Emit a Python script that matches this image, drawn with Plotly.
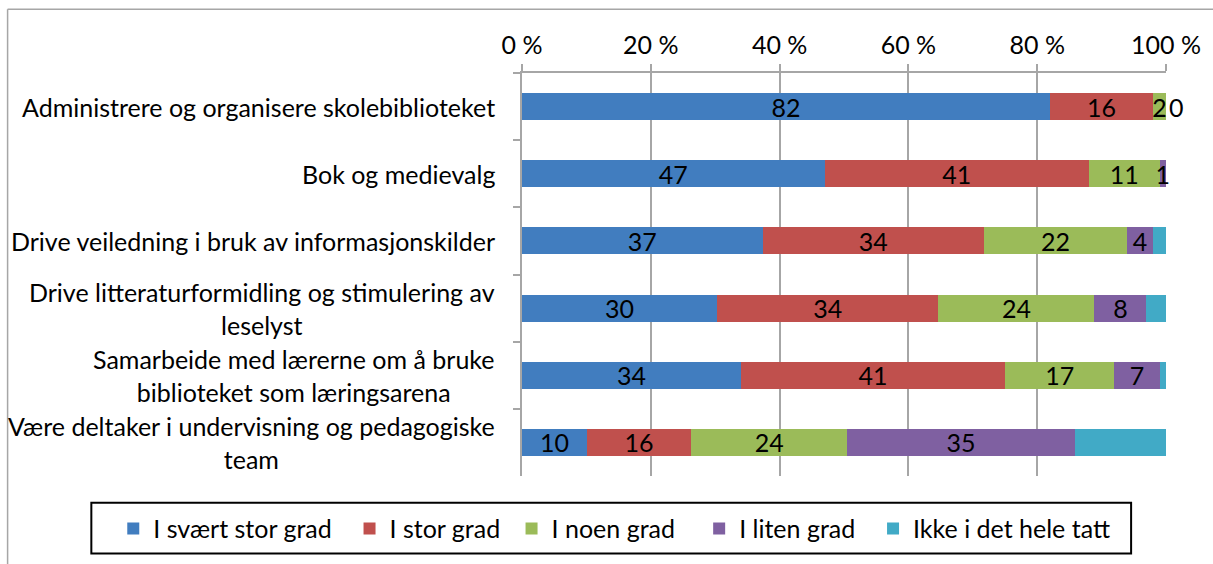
import plotly.graph_objects as go

categories = [
    "Administrere og organisere skolebiblioteket",
    "Bok og medievalg",
    "Drive veiledning i bruk av informasjonskilder",
    "Drive litteraturformidling og stimulering av<br>leselyst",
    "Samarbeide med lærerne om å bruke<br>biblioteket som læringsarena",
    "Være deltaker i undervisning og pedagogiske<br>team",
]
series_names = ["I svært stor grad", "I stor grad", "I noen grad", "I liten grad", "Ikke i det hele tatt"]
svaert_stor = [82, 47, 37, 30, 34, 10]
stor = [16, 41, 34, 34, 41, 16]
noen = [2, 11, 22, 24, 17, 24]
liten = [0, 1, 4, 8, 7, 35]
ikke = [0, 0, 2, 3, 1, 14]
series_values = [svaert_stor, stor, noen, liten, ikke]
show_labels = [True, True, True, True, False]
colors = ["#417DBF", "#C0504D", "#9BBB59", "#7F60A1", "#41AAC6"]
x_ticks = [0, 20, 40, 60, 80, 100]

FONT = "Lato"
FS = 25
NBSP = "\u00a0"
legend_pad = [2, 1, 3, 2, 0]  # invisible trailing spacing between legend entries

W, H = 1213, 564
L, R, T, B = 522, 1168, 73, 478
PW, PH = R - L, B - T


def px_x(x):
    return (x - L) / PW


def px_y(y):
    return (B - y) / PH


fig = go.Figure()
for name, vals, col, lab, pad in zip(series_names, series_values, colors, show_labels, legend_pad):
    if lab:
        # zero-width segments need 'outside' to keep their label
        tpos = ["outside" if v == 0 else "inside" for v in vals]
        txt = [str(v) for v in vals]
    else:
        tpos = "none"
        txt = None
    fig.add_trace(go.Bar(
        y=categories, x=vals, name=name + NBSP * pad, orientation="h",
        marker=dict(color=col, line=dict(width=0)),
        text=txt, textposition=tpos,
        insidetextanchor="middle", textangle=0,
        insidetextfont=dict(family=FONT, size=FS, color="black"),
        outsidetextfont=dict(family=FONT, size=FS, color="black"),
        cliponaxis=False,
        hoverinfo="skip",
    ))

for c in categories:
    fig.add_annotation(
        x=px_x(497), xref="paper", y=c, yref="y", text=c,
        showarrow=False, xanchor="right", yanchor="middle", align="center",
        font=dict(family=FONT, size=FS, color="black"),
    )

fig.update_layout(
    width=W, height=H,
    margin=dict(l=L, r=W - R, t=T, b=H - B, pad=0),
    barmode="stack", barnorm="percent", bargap=0.6,
    paper_bgcolor="white", plot_bgcolor="white",
    font=dict(family=FONT, size=FS, color="black"),
    uniformtext=dict(minsize=FS, mode="show"),
    showlegend=True,
    legend=dict(
        orientation="h", x=px_x(112), xanchor="left", y=px_y(508), yanchor="top",
        borderwidth=0, bgcolor="rgba(0,0,0,0)",
        font=dict(family=FONT, size=FS, color="black"),
        traceorder="normal",
    ),
    xaxis=dict(
        side="top", range=[0, 100], tickvals=x_ticks,
        ticktext=[f"{t} %" for t in x_ticks],
        showgrid=True, gridcolor="#A6A6A6", gridwidth=2,
        showline=True, linecolor="#A6A6A6", linewidth=2,
        ticks="outside", ticklen=7, tickcolor="#A6A6A6", tickwidth=2,
        zeroline=False, fixedrange=True,
        tickfont=dict(family=FONT, size=FS, color="black"),
    ),
    yaxis=dict(
        autorange="reversed", showticklabels=False,
        showline=True, linecolor="#A6A6A6", linewidth=2,
        ticks="outside", tickson="boundaries", ticklen=7,
        tickcolor="#A6A6A6", tickwidth=2,
        showgrid=False, zeroline=False, fixedrange=True,
    ),
)
# outer chart border (top and left edges visible)
fig.add_shape(type="line", xref="paper", yref="paper",
              x0=px_x(6), x1=px_x(W + 5), y0=px_y(9), y1=px_y(9),
              line=dict(color="#A6A6A6", width=1.5))
fig.add_shape(type="line", xref="paper", yref="paper",
              x0=px_x(6), x1=px_x(6), y0=px_y(9), y1=px_y(H + 5),
              line=dict(color="#A6A6A6", width=1.5))
# legend frame
fig.add_shape(type="rect", xref="paper", yref="paper",
              x0=px_x(90), x1=px_x(1133), y0=px_y(505), y1=px_y(556),
              line=dict(color="black", width=2), fillcolor="rgba(0,0,0,0)", layer="below")

fig.write_html("out.html", config={"displayModeBar": False},
               post_script="document.body.style.margin='0';")
